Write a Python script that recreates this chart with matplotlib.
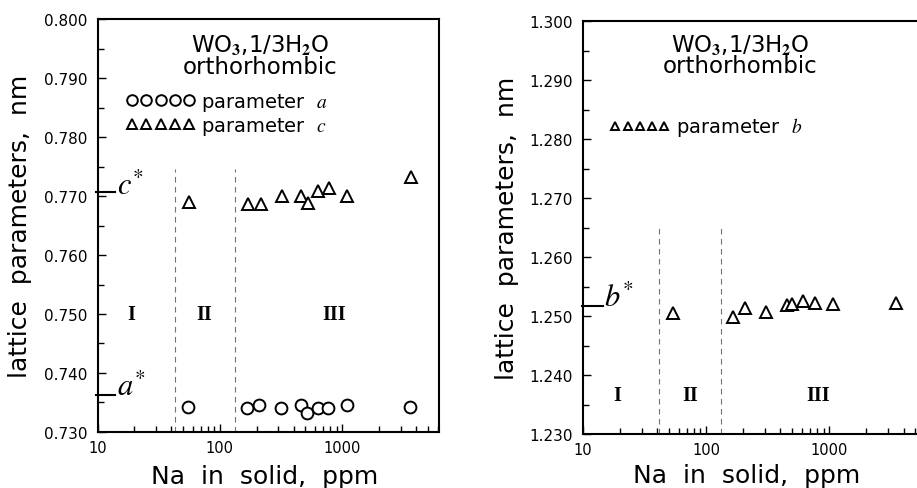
"""
WO3.1/3H2O orthorhombic lattice parameters vs Na content
two panels: a and c (left), b (right)
"""

import matplotlib
matplotlib.use('Agg')
import matplotlib.pyplot as plt
from matplotlib.ticker import FixedLocator, MultipleLocator, FormatStrFormatter, LogLocator, NullFormatter

plt.rcParams['font.family'] = ['DejaVu Sans']
plt.rcParams['mathtext.fontset'] = 'stix'

# ---- data ----
na_a = [55, 167, 209, 315, 464, 516, 635, 765, 1102, 3590]
param_a = [0.7343, 0.7340, 0.7346, 0.7341, 0.7345, 0.7333, 0.7340, 0.7340, 0.7345, 0.7343]

na_c = [56, 170, 215, 319, 464, 526, 635, 776, 1102, 3670]
param_c = [0.7690, 0.7686, 0.7686, 0.7700, 0.7700, 0.7688, 0.7709, 0.7713, 0.7700, 0.7732]

na_b = [54, 166, 206, 309, 455, 495, 611, 760, 1069, 3490]
param_b = [1.2505, 1.2498, 1.2513, 1.2507, 1.2519, 1.2520, 1.2526, 1.2522, 1.2520, 1.2523]

a_star = 0.7362
c_star = 0.7707
b_star = 1.2517

region_bounds = [43, 133]
region_names = ['I', 'II', 'III']
region_x = [19, 75, 850]

x_ticks = [10, 100, 1000]
x_ticklabels = ['10', '100', '1000']

W, H = 917, 489
fig = plt.figure(figsize=(W / 100, H / 100), dpi=100)

ax1 = fig.add_axes([97.5 / W, 1 - 433 / H, 341.8 / W, 413 / H])
ax2 = fig.add_axes([582.7 / W, 1 - 435 / H, 344.3 / W, 412.7 / H])


def style_axes(ax, ylim, yfmt):
    ax.set_xscale('log')
    ax.set_xlim(10, 6200)
    ax.set_ylim(*ylim)
    ax.xaxis.set_major_locator(FixedLocator(x_ticks))
    ax.set_xticklabels(x_ticklabels)
    ax.xaxis.set_minor_locator(LogLocator(base=10, subs=range(2, 10)))
    ax.xaxis.set_minor_formatter(NullFormatter())
    ax.yaxis.set_major_locator(MultipleLocator(0.01))
    ax.yaxis.set_minor_locator(MultipleLocator(0.005))
    ax.yaxis.set_major_formatter(FormatStrFormatter(yfmt))
    ax.tick_params(which='both', direction='in', top=False, right=False, width=1.0)
    ax.tick_params(axis='y', labelsize=11, pad=7)
    ax.tick_params(axis='x', labelsize=10.5, pad=6)
    ax.tick_params(which='major', length=6)
    ax.tick_params(which='minor', length=4)
    for s in ax.spines.values():
        s.set_linewidth(1.5)
    ax.set_xlabel('Na  in  solid,  ppm', fontsize=18)
    ax.set_ylabel('lattice  parameters,  nm', fontsize=18)
    ax.xaxis.label.set_verticalalignment('center')
    ax.yaxis.label.set_verticalalignment('center')


def title(ax, x, y):
    ax.text(x, y, r'WO$_\mathbf{3}$,1/3H$_\mathbf{2}$O', transform=ax.transAxes,
            ha='center', va='center', fontsize=16.5)
    ax.text(x, y - 0.053, 'orthorhombic', transform=ax.transAxes,
            ha='center', va='center', fontsize=16.5)


# ===== left panel: a and c =====
style_axes(ax1, (0.730, 0.800), '%.3f')
ax1.xaxis.set_label_coords(0.49, -0.107)
ax1.yaxis.set_label_coords(-0.227, 0.5)

ax1.plot(na_a, param_a, 'o', ms=8.5, mfc='white', mec='black', mew=1.4,
         label=r'parameter  $\mathit{a}$')
ax1.plot(na_c, param_c, '^', ms=8, mfc='white', mec='black', mew=1.4,
         label=r'parameter  $\mathit{c}$')
ax1.legend(loc='upper left', bbox_to_anchor=(0.085, 0.825), numpoints=5,
           frameon=False, fontsize=14, handlelength=3.5, handletextpad=0.35,
           borderpad=0, borderaxespad=0, labelspacing=0.1, markerscale=0.9)

for xb in region_bounds:
    ax1.plot([xb, xb], [0.730, 0.7745], color='0.45', lw=0.8, ls=(0, (5, 4)))
for name, xr in zip(region_names, region_x):
    ax1.text(xr, 0.750, name, ha='center', va='center', fontsize=14.5,
             family='Liberation Serif', fontweight='bold')

ax1.plot([9.8, 14.0], [c_star, c_star], color='black', lw=1.5, clip_on=False)
ax1.plot([9.8, 14.0], [a_star, a_star], color='black', lw=1.5, clip_on=False)
ax1.text(14.5, c_star - 0.0003, r'$c^{*}$', fontsize=22, ha='left', va='baseline')
ax1.text(14.5, a_star, r'$a^{*}$', fontsize=22, ha='left', va='baseline')
title(ax1, 0.475, 0.939)

# ===== right panel: b =====
style_axes(ax2, (1.230, 1.300), '%.3f')
ax2.xaxis.set_label_coords(0.475, -0.1)
ax2.yaxis.set_label_coords(-0.221, 0.5)

ax2.plot(na_b, param_b, '^', ms=8.5, mfc='white', mec='black', mew=1.4,
         label=r'parameter  $\mathit{b}$')
ax2.legend(loc='upper left', bbox_to_anchor=(0.078, 0.772), numpoints=5,
           frameon=False, fontsize=14, handlelength=3.1, handletextpad=0.3,
           borderpad=0, borderaxespad=0, markerscale=0.75)

for xb, top in zip([41.5, 132], [1.265, 1.265]):
    ax2.plot([xb, xb], [1.230, top], color='0.45', lw=0.8, ls=(0, (5, 4)))
for name, xr in zip(region_names, [19, 74, 810]):
    ax2.text(xr, 1.2366, name, ha='center', va='center', fontsize=14.5,
             family='Liberation Serif', fontweight='bold')

ax2.plot([9.8, 14.5], [b_star, b_star], color='black', lw=1.5, clip_on=False)
ax2.text(14.8, b_star, r'$b^{*}$', fontsize=22, ha='left', va='baseline')
title(ax2, 0.457, 0.945)

fig.savefig('out.png', dpi=100, facecolor='white')
